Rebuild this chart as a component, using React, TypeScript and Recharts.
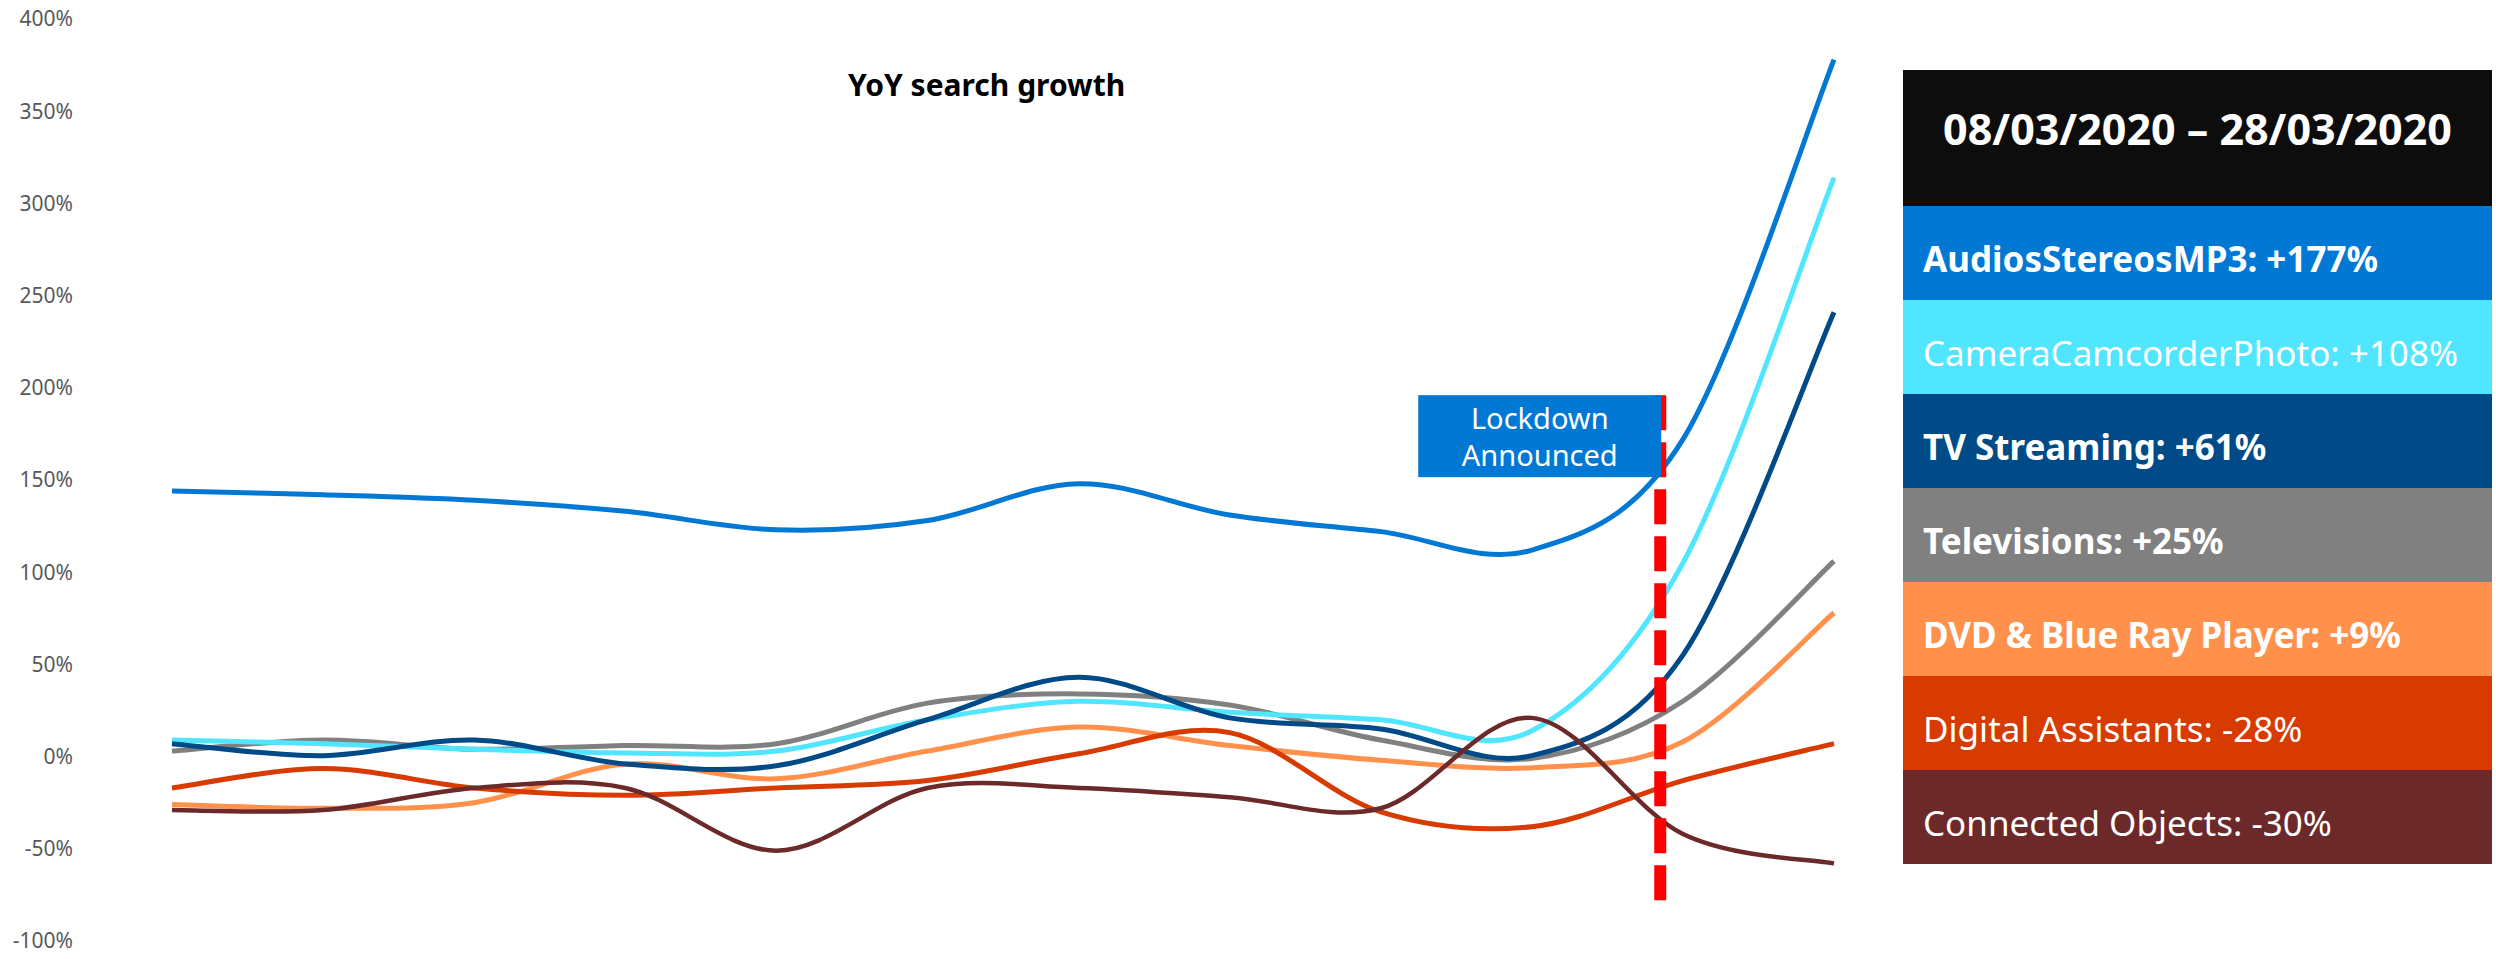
import React from "react";
import {Line, LineChart, ReferenceLine, XAxis, YAxis} from "recharts";

// weekly points, no labels shown on the x axis
const weeks = ["W1", "W2", "W3", "W4", "W5", "W6", "W7", "W8", "W9", "W10", "W11", "W12"];

const audiosStereos = [144, 142, 139, 133, 123, 128, 148, 131, 122, 112, 172, 378];
const cameraCamcorder = [9, 7, 4, 2, 3, 20, 30, 24, 20, 14, 105, 314];
const tvStreaming = [7, 0.5, 9, -4, -5, 20, 43, 21, 15, 0.5, 55, 241];
const televisions = [3, 9, 4, 6, 7, 29, 34, 28, 9, -1, 30, 106];
const dvdBluRay = [-26, -28, -25, -4, -12, 3, 16, 6, -2, -6, 8, 78];
const digitalAssistants = [-17, -6.5, -17, -21, -17, -13, 1.5, 13, -30, -38, -13, 7];
const connectedObjects = [-29, -29, -17, -17, -51, -17, -17, -22, -28, 21, -42, -58];

const yTicks = [-100, -50, 0, 50, 100, 150, 200, 250, 300, 350, 400];
const lockdownWeek = 9.85;

const seriesKeys = ["audios", "camera", "tv", "televisions", "dvd", "digital", "connected"];
const seriesNames = ["AudiosStereosMP3", "CameraCamcorderPhoto", "TV Streaming", "Televisions", "DVD & Blue Ray Player", "Digital Assistants", "Connected Objects"];
const periodGrowth = ["+177%", "+108%", "+61%", "+25%", "+9%", "-28%", "-30%"];
const seriesBold = [true, false, true, true, true, false, false];
const COLORS = ["#0078D4", "#50E6FF", "#004B87", "#808080", "#FF914D", "#D83B01", "#6B2929"];
// draw order (last on top)
const drawOrder = [3, 1, 4, 5, 2, 6, 0];

const FONT = "'Segoe UI', 'Noto Sans', sans-serif";

const data = weeks.map((week, i) => ({
    week,
    x: i,
    audios: audiosStereos[i],
    camera: cameraCamcorder[i],
    tv: tvStreaming[i],
    televisions: televisions[i],
    dvd: dvdBluRay[i],
    digital: digitalAssistants[i],
    connected: connectedObjects[i],
}));

// excel-like smoothed line
const excelSmooth = (context: any) => {
    let pts: number[][] = [];
    return {
        areaStart() {},
        areaEnd() {},
        lineStart() { pts = []; },
        point(x: number, y: number) { pts.push([+x, +y]); },
        lineEnd() {
            if (!pts.length) return;
            context.moveTo(pts[0][0], pts[0][1]);
            for (let i = 0; i < pts.length - 1; i++) {
                const p0 = pts[Math.max(i - 1, 0)];
                const p1 = pts[i];
                const p2 = pts[i + 1];
                const p3 = pts[Math.min(i + 2, pts.length - 1)];
                context.bezierCurveTo(
                    p1[0] + (p2[0] - p0[0]) / 6, p1[1] + (p2[1] - p0[1]) / 6,
                    p2[0] - (p3[0] - p1[0]) / 6, p2[1] - (p3[1] - p1[1]) / 6,
                    p2[0], p2[1]);
            }
        },
    };
};

// @ts-ignore
const LockdownLabel = ({viewBox}) => {
    const w = 243;
    const h = 82;
    const x = viewBox.x - w + 1;
    const y = viewBox.y;
    return (
        <g>
            <rect x={x} y={y} width={w} height={h} fill="#0078D4"/>
            <text x={x + w / 2} y={y + 34} textAnchor="middle" fill="#fff" fontSize={29} fontFamily={FONT}>Lockdown</text>
            <text x={x + w / 2} y={y + 71} textAnchor="middle" fill="#fff" fontSize={29} fontFamily={FONT}>Announced</text>
        </g>
    );
};

const LegendPanel = () => (
    <div style={{position: "absolute", left: 1903, top: 70, width: 589, fontFamily: FONT}}>
        <div style={{height: 136, background: "#0D0D0D", color: "#fff", fontWeight: 700, fontSize: 43,
            display: "flex", alignItems: "center", justifyContent: "center", paddingBottom: 20, boxSizing: "border-box"}}>
            08/03/2020 – 28/03/2020
        </div>
        {seriesNames.map((name, i) => (
            <div key={name} style={{height: 94, background: COLORS[i], color: "#fff", fontSize: 35,
                fontWeight: seriesBold[i] ? 700 : 400, display: "flex", alignItems: "center",
                paddingLeft: 20, paddingTop: 10, boxSizing: "border-box", whiteSpace: "nowrap"}}>
                {name}: {periodGrowth[i]}
            </div>
        ))}
    </div>
);

export default function App() {
    return (
        <div style={{position: "absolute", left: 0, top: 0, width: 2496, height: 959, background: "#fff", overflow: "hidden"}}>
            <LineChart width={2496} height={959} data={data} margin={{top: 19, right: 662, bottom: 18, left: 0}}>
                <XAxis dataKey="x" type="number" domain={[0, weeks.length - 1]} hide/>
                <YAxis width={172} domain={[-100, 400]} ticks={yTicks} allowDataOverflow axisLine={false} tickLine={false}
                       tickSize={0} tickMargin={99} tickFormatter={(v: number) => `${v}%`}
                       tick={{fill: "#595959", fontSize: 21, fontFamily: FONT}}/>
                {drawOrder.map(i => (
                    <Line key={seriesKeys[i]} dataKey={seriesKeys[i]} name={seriesNames[i]} type={excelSmooth as any}
                          stroke={COLORS[i]} strokeWidth={i === 6 ? 4.5 : 5} dot={false} activeDot={false}
                          isAnimationActive={false}/>
                ))}
                <ReferenceLine segment={[{x: lockdownWeek, y: 196}, {x: lockdownWeek, y: -80}]} stroke="#FF0000"
                               strokeWidth={12} strokeDasharray="35 12" ifOverflow="visible"
                               label={LockdownLabel as any}/>
            </LineChart>
            <div style={{position: "absolute", left: 848, top: 64, fontFamily: FONT, fontWeight: 700, fontSize: 30, color: "#000"}}>
                YoY search growth
            </div>
            <LegendPanel/>
        </div>
    );
}
